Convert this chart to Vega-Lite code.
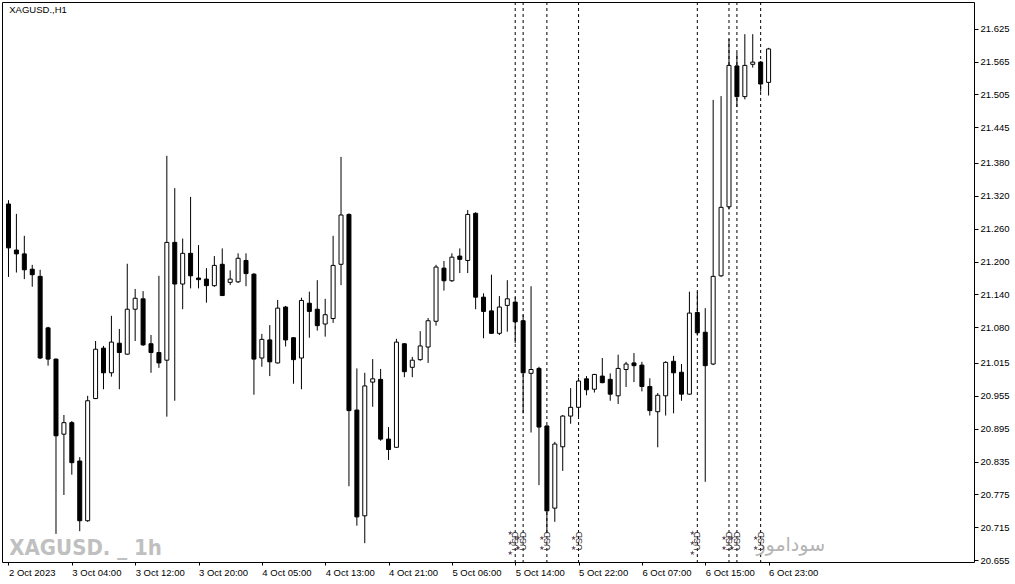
{
  "$schema": "https://vega.github.io/schema/vega-lite/v6.json",
  "width": 972,
  "height": 560,
  "autosize": {"type": "none"},
  "padding": {"left": 2, "top": 2, "right": 41, "bottom": 22},
  "background": "white",
  "config": {
    "view": {"stroke": "black", "strokeWidth": 1},
    "axis": {"grid": false, "domain": false, "title": null, "labelOverlap": false, "labelFlush": false, "labelFont": "Liberation Sans", "labelFontSize": 9.5, "labelColor": "black", "tickColor": "black", "tickWidth": 1}
  },
  "datasets": {
    "candles": [
      {"i":0,"o":21.305,"h":21.312,"l":21.172,"c":21.225},
      {"i":1,"o":21.221,"h":21.287,"l":21.180,"c":21.214},
      {"i":2,"o":21.214,"h":21.247,"l":21.168,"c":21.185},
      {"i":3,"o":21.186,"h":21.194,"l":21.154,"c":21.176},
      {"i":4,"o":21.173,"h":21.185,"l":21.022,"c":21.024},
      {"i":5,"o":21.079,"h":21.081,"l":21.010,"c":21.022},
      {"i":6,"o":21.022,"h":21.023,"l":20.703,"c":20.882},
      {"i":7,"o":20.885,"h":20.920,"l":20.774,"c":20.906},
      {"i":8,"o":20.906,"h":20.909,"l":20.811,"c":20.833},
      {"i":9,"o":20.836,"h":20.843,"l":20.708,"c":20.727},
      {"i":10,"o":20.727,"h":20.955,"l":20.725,"c":20.946},
      {"i":11,"o":20.950,"h":21.055,"l":20.949,"c":21.040},
      {"i":12,"o":21.042,"h":21.046,"l":20.967,"c":20.997},
      {"i":13,"o":20.997,"h":21.101,"l":20.990,"c":21.053},
      {"i":14,"o":21.051,"h":21.077,"l":20.967,"c":21.034},
      {"i":15,"o":21.031,"h":21.196,"l":21.030,"c":21.113},
      {"i":16,"o":21.113,"h":21.150,"l":21.055,"c":21.133},
      {"i":17,"o":21.132,"h":21.146,"l":21.046,"c":21.048},
      {"i":18,"o":21.050,"h":21.066,"l":20.997,"c":21.034},
      {"i":19,"o":21.034,"h":21.174,"l":21.006,"c":21.015},
      {"i":20,"o":21.020,"h":21.393,"l":20.917,"c":21.235},
      {"i":21,"o":21.235,"h":21.334,"l":20.946,"c":21.159},
      {"i":22,"o":21.159,"h":21.242,"l":21.113,"c":21.215},
      {"i":23,"o":21.215,"h":21.318,"l":21.151,"c":21.174},
      {"i":24,"o":21.170,"h":21.230,"l":21.151,"c":21.167},
      {"i":25,"o":21.168,"h":21.188,"l":21.125,"c":21.156},
      {"i":26,"o":21.156,"h":21.210,"l":21.154,"c":21.193},
      {"i":27,"o":21.195,"h":21.224,"l":21.137,"c":21.138},
      {"i":28,"o":21.162,"h":21.184,"l":21.157,"c":21.168},
      {"i":29,"o":21.163,"h":21.215,"l":21.161,"c":21.206},
      {"i":30,"o":21.202,"h":21.215,"l":21.155,"c":21.178},
      {"i":31,"o":21.177,"h":21.179,"l":20.957,"c":21.022},
      {"i":32,"o":21.024,"h":21.068,"l":21.008,"c":21.058},
      {"i":33,"o":21.057,"h":21.084,"l":20.991,"c":21.017},
      {"i":34,"o":21.015,"h":21.130,"l":21.014,"c":21.115},
      {"i":35,"o":21.117,"h":21.119,"l":21.045,"c":21.057},
      {"i":36,"o":21.061,"h":21.062,"l":20.977,"c":21.021},
      {"i":37,"o":21.024,"h":21.134,"l":20.967,"c":21.129},
      {"i":38,"o":21.124,"h":21.145,"l":21.061,"c":21.109},
      {"i":39,"o":21.113,"h":21.166,"l":21.074,"c":21.083},
      {"i":40,"o":21.086,"h":21.132,"l":21.063,"c":21.103},
      {"i":41,"o":21.096,"h":21.247,"l":21.088,"c":21.193},
      {"i":42,"o":21.195,"h":21.391,"l":21.157,"c":21.285},
      {"i":43,"o":21.286,"h":21.288,"l":20.790,"c":20.928},
      {"i":44,"o":20.929,"h":21.005,"l":20.718,"c":20.734},
      {"i":45,"o":20.736,"h":20.997,"l":20.686,"c":20.973},
      {"i":46,"o":20.980,"h":21.022,"l":20.935,"c":20.986},
      {"i":47,"o":20.985,"h":21.004,"l":20.873,"c":20.876},
      {"i":48,"o":20.876,"h":20.898,"l":20.838,"c":20.857},
      {"i":49,"o":20.861,"h":21.059,"l":20.860,"c":21.053},
      {"i":50,"o":21.050,"h":21.051,"l":20.989,"c":20.999},
      {"i":51,"o":21.007,"h":21.026,"l":20.989,"c":21.020},
      {"i":52,"o":21.021,"h":21.073,"l":21.019,"c":21.046},
      {"i":53,"o":21.044,"h":21.097,"l":21.015,"c":21.092},
      {"i":54,"o":21.091,"h":21.194,"l":21.083,"c":21.190},
      {"i":55,"o":21.188,"h":21.201,"l":21.147,"c":21.165},
      {"i":56,"o":21.165,"h":21.215,"l":21.163,"c":21.208},
      {"i":57,"o":21.210,"h":21.224,"l":21.179,"c":21.204},
      {"i":58,"o":21.202,"h":21.294,"l":21.179,"c":21.286},
      {"i":59,"o":21.288,"h":21.290,"l":21.113,"c":21.135},
      {"i":60,"o":21.135,"h":21.142,"l":21.060,"c":21.109},
      {"i":61,"o":21.110,"h":21.176,"l":21.068,"c":21.069},
      {"i":62,"o":21.069,"h":21.137,"l":21.066,"c":21.117},
      {"i":63,"o":21.120,"h":21.166,"l":21.072,"c":21.132},
      {"i":64,"o":21.126,"h":21.135,"l":21.051,"c":21.090},
      {"i":65,"o":21.092,"h":21.103,"l":20.923,"c":20.997},
      {"i":66,"o":20.996,"h":21.155,"l":20.888,"c":21.003},
      {"i":67,"o":21.005,"h":21.008,"l":20.792,"c":20.898},
      {"i":68,"o":20.900,"h":20.901,"l":20.704,"c":20.745},
      {"i":69,"o":20.750,"h":20.871,"l":20.725,"c":20.867},
      {"i":70,"o":20.862,"h":20.920,"l":20.818,"c":20.918},
      {"i":71,"o":20.918,"h":20.969,"l":20.904,"c":20.934},
      {"i":72,"o":20.934,"h":20.988,"l":20.918,"c":20.982},
      {"i":73,"o":20.986,"h":20.991,"l":20.956,"c":20.966},
      {"i":74,"o":20.967,"h":20.995,"l":20.961,"c":20.994},
      {"i":75,"o":20.991,"h":21.024,"l":20.978,"c":20.979},
      {"i":76,"o":20.985,"h":20.996,"l":20.946,"c":20.958},
      {"i":77,"o":20.955,"h":21.030,"l":20.940,"c":21.005},
      {"i":78,"o":21.003,"h":21.017,"l":20.971,"c":21.013},
      {"i":79,"o":21.015,"h":21.033,"l":20.980,"c":21.010},
      {"i":80,"o":21.011,"h":21.017,"l":20.963,"c":20.972},
      {"i":81,"o":20.972,"h":20.987,"l":20.919,"c":20.928},
      {"i":82,"o":20.926,"h":20.960,"l":20.861,"c":20.956},
      {"i":83,"o":20.955,"h":21.018,"l":20.919,"c":21.016},
      {"i":84,"o":21.018,"h":21.028,"l":20.923,"c":20.997},
      {"i":85,"o":20.998,"h":21.013,"l":20.946,"c":20.958},
      {"i":86,"o":20.958,"h":21.145,"l":20.957,"c":21.106},
      {"i":87,"o":21.107,"h":21.145,"l":21.065,"c":21.070},
      {"i":88,"o":21.071,"h":21.115,"l":20.798,"c":21.010},
      {"i":89,"o":21.013,"h":21.495,"l":21.011,"c":21.173},
      {"i":90,"o":21.174,"h":21.502,"l":21.172,"c":21.299},
      {"i":91,"o":21.300,"h":21.606,"l":21.295,"c":21.558},
      {"i":92,"o":21.557,"h":21.581,"l":21.482,"c":21.501},
      {"i":93,"o":21.501,"h":21.615,"l":21.496,"c":21.558},
      {"i":94,"o":21.560,"h":21.615,"l":21.554,"c":21.564},
      {"i":95,"o":21.564,"h":21.566,"l":21.510,"c":21.524},
      {"i":96,"o":21.527,"h":21.590,"l":21.503,"c":21.588}
    ],
    "events": [
      {"i":64,"cur":"USD","imp":3},
      {"i":65,"cur":"USD","imp":2},
      {"i":68,"cur":"USD","imp":2},
      {"i":72,"cur":"USD","imp":2},
      {"i":87,"cur":"USD","imp":3},
      {"i":91,"cur":"USD","imp":2},
      {"i":92,"cur":"USD","imp":2},
      {"i":95,"cur":"USD","imp":2}
    ]
  },
  "layer": [
    {
      "data": {"name": "events"},
      "mark": {"type": "rule", "color": "black", "strokeWidth": 1, "strokeDash": [3, 3]},
      "encoding": {
        "x": {"field": "i", "type": "quantitative", "title": null}
      }
    },
    {
      "data": {"name": "candles"},
      "mark": {"type": "rule", "color": "black", "strokeWidth": 1},
      "encoding": {
        "x": {"field": "i", "type": "quantitative", "title": null, "scale": {"domain": [-0.1875, 121.3125], "nice": false, "zero": false},
          "axis": {"title": null, "orient": "bottom", "values": [0,8,16,24,32,40,48,56,64,72,80,88,96], "tickCount": 30, "tickSize": 3, "labelAlign": "left", "labelBaseline": "top", "labelPadding": 2, "labelFlush": false, "labelOverlap": false,
            "labelExpr": "datum.value == 0 ? '2 Oct 2023' : datum.value == 8 ? '3 Oct 04:00' : datum.value == 16 ? '3 Oct 12:00' : datum.value == 24 ? '3 Oct 20:00' : datum.value == 32 ? '4 Oct 05:00' : datum.value == 40 ? '4 Oct 13:00' : datum.value == 48 ? '4 Oct 21:00' : datum.value == 56 ? '5 Oct 06:00' : datum.value == 64 ? '5 Oct 14:00' : datum.value == 72 ? '5 Oct 22:00' : datum.value == 80 ? '6 Oct 07:00' : datum.value == 88 ? '6 Oct 15:00' : '6 Oct 23:00'"}},
        "y": {"field": "l", "type": "quantitative", "title": null, "scale": {"domain": [20.6517, 21.6737], "nice": false, "zero": false},
          "axis": {"title": null, "orient": "right", "values": [20.655,20.715,20.775,20.835,20.895,20.955,21.015,21.08,21.14,21.2,21.26,21.32,21.38,21.445,21.505,21.565,21.625], "tickCount": 30, "format": ".3f", "tickSize": 4, "labelPadding": 2, "labelOverlap": false, "labelFlush": false}},
        "y2": {"field": "h"}
      }
    },
    {
      "data": {"name": "candles"},
      "mark": {"type": "bar", "orient": "vertical", "width": 4, "stroke": "black", "strokeWidth": 1},
      "encoding": {
        "x": {"field": "i", "type": "quantitative", "title": null},
        "y": {"field": "o", "type": "quantitative", "title": null},
        "y2": {"field": "c"},
        "fill": {"condition": {"test": "datum.c < datum.o", "value": "black"}, "value": "white"}
      }
    },
    {
      "data": {"name": "events"},
      "transform": [{"filter": "datum.imp == 3"}],
      "mark": {"type": "point", "shape": "M0,-1L0.2245,-0.309L0.9511,-0.309L0.3633,0.118L0.5878,0.809L0,0.382L-0.5878,0.809L-0.3633,0.118L-0.9511,-0.309L-0.2245,-0.309Z", "filled": true, "size": 26, "color": "#5e4a5e", "xOffset": -5, "opacity": 1},
      "encoding": {
        "x": {"field": "i", "type": "quantitative", "title": null},
        "y": {"datum": 20.7047, "type": "quantitative", "title": null}
      }
    },
    {
      "data": {"name": "events"},
      "transform": [{"filter": "datum.imp == 3"}],
      "mark": {"type": "point", "shape": "M0,-1L0.2245,-0.309L0.9511,-0.309L0.3633,0.118L0.5878,0.809L0,0.382L-0.5878,0.809L-0.3633,0.118L-0.9511,-0.309L-0.2245,-0.309Z", "filled": true, "size": 26, "color": "#5e4a5e", "xOffset": -5, "opacity": 1},
      "encoding": {
        "x": {"field": "i", "type": "quantitative", "title": null},
        "y": {"datum": 20.6864, "type": "quantitative", "title": null}
      }
    },
    {
      "data": {"name": "events"},
      "transform": [{"filter": "datum.imp == 3"}],
      "mark": {"type": "point", "shape": "M0,-1L0.2245,-0.309L0.9511,-0.309L0.3633,0.118L0.5878,0.809L0,0.382L-0.5878,0.809L-0.3633,0.118L-0.9511,-0.309L-0.2245,-0.309Z", "filled": true, "size": 26, "color": "#5e4a5e", "xOffset": -5, "opacity": 1},
      "encoding": {
        "x": {"field": "i", "type": "quantitative", "title": null},
        "y": {"datum": 20.6682, "type": "quantitative", "title": null}
      }
    },
    {
      "data": {"name": "events"},
      "transform": [{"filter": "datum.imp == 2"}],
      "mark": {"type": "point", "shape": "M0,-1L0.2245,-0.309L0.9511,-0.309L0.3633,0.118L0.5878,0.809L0,0.382L-0.5878,0.809L-0.3633,0.118L-0.9511,-0.309L-0.2245,-0.309Z", "filled": true, "size": 26, "color": "#5e4a5e", "xOffset": -5, "opacity": 1},
      "encoding": {
        "x": {"field": "i", "type": "quantitative", "title": null},
        "y": {"datum": 20.6956, "type": "quantitative", "title": null}
      }
    },
    {
      "data": {"name": "events"},
      "transform": [{"filter": "datum.imp == 2"}],
      "mark": {"type": "point", "shape": "M0,-1L0.2245,-0.309L0.9511,-0.309L0.3633,0.118L0.5878,0.809L0,0.382L-0.5878,0.809L-0.3633,0.118L-0.9511,-0.309L-0.2245,-0.309Z", "filled": true, "size": 26, "color": "#5e4a5e", "xOffset": -5, "opacity": 1},
      "encoding": {
        "x": {"field": "i", "type": "quantitative", "title": null},
        "y": {"datum": 20.6773, "type": "quantitative", "title": null}
      }
    },
    {
      "data": {"values": [{"label": "XAGUSD. _ 1h"}]},
      "mark": {"type": "text", "font": "Liberation Sans Narrow, DejaVu Sans Condensed", "fontWeight": "bold", "fontSize": 22, "color": "#c0c0c0", "align": "left", "baseline": "alphabetic"},
      "encoding": {
        "x": {"datum": 0.1, "type": "quantitative", "title": null},
        "y": {"datum": 20.6645, "type": "quantitative", "title": null},
        "text": {"field": "label"}
      }
    },
    {
      "data": {"values": [{"label": "سودامور"}]},
      "mark": {"type": "text", "font": "DejaVu Sans", "fontSize": 19, "color": "#b4b4b4", "align": "center", "baseline": "middle"},
      "encoding": {
        "x": {"datum": 98.8, "type": "quantitative", "title": null},
        "y": {"datum": 20.683, "type": "quantitative", "title": null},
        "text": {"field": "label"}
      }
    },
    {
      "data": {"name": "events"},
      "mark": {"type": "text", "font": "Liberation Sans", "fontSize": 9, "color": "#333333", "angle": 270, "align": "center", "baseline": "middle", "dx": 5},
      "encoding": {
        "x": {"field": "i", "type": "quantitative", "title": null},
        "y": {"datum": 20.681, "type": "quantitative", "title": null},
        "text": {"field": "cur"}
      }
    },
    {
      "data": {"values": [{"label": "XAGUSD.,H1"}]},
      "mark": {"type": "text", "font": "Liberation Sans", "fontSize": 9.5, "color": "black", "align": "left", "baseline": "middle"},
      "encoding": {
        "x": {"datum": 0.1, "type": "quantitative", "title": null},
        "y": {"datum": 21.659, "type": "quantitative", "title": null},
        "text": {"field": "label"}
      }
    }
  ]
}
